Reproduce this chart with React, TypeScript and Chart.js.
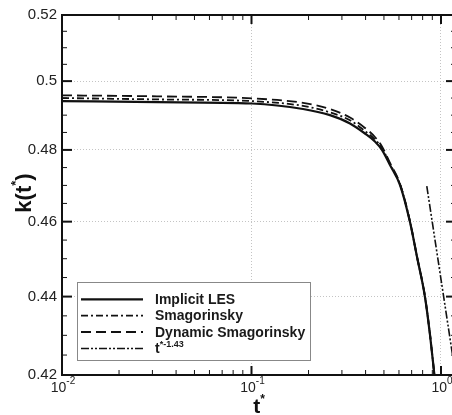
import React, { useEffect, useRef } from "react";
import { Chart, registerables } from "chart.js";
Chart.register(...registerables);

// ---- data ----
const tGrid = [0.01, 0.0317, 0.1006, 0.187, 0.2595, 0.331, 0.397, 0.448, 0.488, 0.538, 0.608, 0.686, 0.747, 0.823, 0.875, 0.923];
const implicitLES = [0.4941, 0.4938, 0.4934, 0.4918, 0.49, 0.4876, 0.4847, 0.4824, 0.48, 0.4757, 0.4701, 0.4599, 0.4505, 0.4399, 0.4301, 0.42];
const smagorinsky = [0.495, 0.4946, 0.4941, 0.4927, 0.4908, 0.4885, 0.4854, 0.483, 0.4806, 0.476, 0.4703, 0.4601, 0.4505, 0.4401, 0.4302, 0.42];
const dynamicSmag = [0.4958, 0.4955, 0.4949, 0.4936, 0.4918, 0.4893, 0.4863, 0.4837, 0.481, 0.4763, 0.4704, 0.46, 0.4506, 0.44, 0.4302, 0.42];
const powerT = [0.8415, 1.194];
const powerK = [0.4698, 0.42];

const seriesNames = ["Implicit LES", "Smagorinsky", "Dynamic Smagorinsky", "t"];
const powerSup = "*-1.43";

const xTicks = [0.01, 0.1, 1];
const xTickExp = ["-2", "-1", "0"];
const xMinor = [0.02, 0.03, 0.04, 0.05, 0.06, 0.07, 0.08, 0.09, 0.2, 0.3, 0.4, 0.5, 0.6, 0.7, 0.8, 0.9];
const yTicks = [0.42, 0.44, 0.46, 0.48, 0.5, 0.52];
const yTickLabels = ["0.42", "0.44", "0.46", "0.48", "0.5", "0.52"];
const yMinor = [0.425, 0.43, 0.435, 0.445, 0.45, 0.455, 0.465, 0.47, 0.475, 0.485, 0.49, 0.495, 0.505, 0.51, 0.515];

const X_MIN = 0.01;
const X_MAX = 1.2;
const Y_MIN = 0.42;
const Y_MAX = 0.52;

const INK = "#111";
const dashes: number[][] = [[], [7, 3, 2, 3], [10, 5], [8, 2, 2, 2, 2, 2]];
const widths = [2.2, 1.8, 1.8, 1.6];

const FONT = '"Liberation Sans", Arial, sans-serif';

function pts(xs: number[], ys: number[]) {
  return xs.map((x, i) => ({ x, y: ys[i] }));
}

const decorPlugin = {
  id: "decor",
  afterDraw(chart: any) {
    const ctx: CanvasRenderingContext2D = chart.ctx;
    const { left, right, top, bottom } = chart.chartArea;
    const xs = chart.scales.x;
    const ys = chart.scales.y;
    ctx.save();
    ctx.strokeStyle = INK;
    ctx.setLineDash([]);

    const tick = (x1: number, y1: number, x2: number, y2: number, w: number) => {
      ctx.lineWidth = w;
      ctx.beginPath();
      ctx.moveTo(x1, y1);
      ctx.lineTo(x2, y2);
      ctx.stroke();
    };
    xTicks.forEach((v) => {
      const px = xs.getPixelForValue(v);
      tick(px, bottom, px, bottom - 9, 2);
      tick(px, top, px, top + 9, 2);
    });
    xMinor.forEach((v) => {
      const px = xs.getPixelForValue(v);
      tick(px, bottom, px, bottom - 5, 1);
      tick(px, top, px, top + 5, 1);
    });
    yTicks.forEach((v) => {
      const py = ys.getPixelForValue(v);
      tick(left, py, left + 10, py, 2);
      tick(right, py, right - 10, py, 2);
    });
    yMinor.forEach((v) => {
      const py = ys.getPixelForValue(v);
      tick(left, py, left + 5, py, 1);
      tick(right, py, right - 5, py, 1);
    });

    // frame
    ctx.lineWidth = 2;
    ctx.strokeRect(left, top, right - left, bottom - top);

    // x tick labels 10^n
    ctx.fillStyle = "#222";
    ctx.textBaseline = "alphabetic";
    ctx.textAlign = "left";
    xTicks.forEach((v, i) => {
      const px = xs.getPixelForValue(v);
      ctx.font = `14px ${FONT}`;
      const wb = ctx.measureText("10").width;
      ctx.font = `10px ${FONT}`;
      const ws = ctx.measureText(xTickExp[i]).width;
      const x0 = px + 1 - (wb + ws) / 2;
      ctx.font = `14px ${FONT}`;
      ctx.fillText("10", x0, 392);
      ctx.font = `10px ${FONT}`;
      ctx.fillText(xTickExp[i], x0 + wb, 383.5);
    });

    // x title t*
    ctx.fillStyle = INK;
    ctx.font = `bold 21px ${FONT}`;
    const wt = ctx.measureText("t").width;
    ctx.font = `bold 12px ${FONT}`;
    const wa = ctx.measureText("*").width;
    const tx = (left + 452) / 2 + 2 - (wt + wa) / 2;
    ctx.font = `bold 21px ${FONT}`;
    ctx.fillText("t", tx, 413);
    ctx.font = `bold 12px ${FONT}`;
    ctx.fillText("*", tx + wt, 403);

    // y title k(t*)
    ctx.save();
    ctx.translate(23, (top + bottom) / 2 - 2);
    ctx.rotate(-Math.PI / 2);
    ctx.font = `bold 22px ${FONT}`;
    const w1 = ctx.measureText("k(t").width;
    const w3 = ctx.measureText(")").width;
    ctx.font = `bold 13px ${FONT}`;
    const w2 = ctx.measureText("*").width;
    let cx = -(w1 + w2 + w3) / 2;
    ctx.font = `bold 22px ${FONT}`;
    ctx.fillText("k(t", cx, 8);
    cx += w1;
    ctx.font = `bold 13px ${FONT}`;
    ctx.fillText("*", cx, -3);
    cx += w2;
    ctx.font = `bold 22px ${FONT}`;
    ctx.fillText(")", cx, 8);
    ctx.restore();

    // legend
    const bx = 77, by = 282, bw = 233, bh = 78;
    ctx.fillStyle = "#fff";
    ctx.fillRect(bx, by, bw, bh);
    ctx.strokeStyle = "#888";
    ctx.lineWidth = 1;
    ctx.strokeRect(bx + 0.5, by + 0.5, bw, bh);
    const rows = [299.3, 315.6, 332, 348.5];
    rows.forEach((ry, i) => {
      ctx.strokeStyle = INK;
      ctx.lineWidth = widths[i];
      ctx.setLineDash(dashes[i]);
      ctx.beginPath();
      ctx.moveTo(81, ry);
      ctx.lineTo(143, ry);
      ctx.stroke();
      ctx.setLineDash([]);
      ctx.fillStyle = "#1a1a1a";
      ctx.textBaseline = "middle";
      ctx.font = `bold 14px ${FONT}`;
      ctx.fillText(seriesNames[i], 155, ry + 1);
      if (i === 3) {
        const wtt = ctx.measureText(seriesNames[i]).width;
        ctx.font = `bold 9px ${FONT}`;
        ctx.fillText(powerSup, 155 + wtt, ry - 4);
      }
    });

    ctx.restore();
  },
};

export default function App() {
  const ref = useRef<HTMLCanvasElement | null>(null);
  useEffect(() => {
    if (!ref.current) return;
    const mk = (label: string, data: any[], i: number) => ({
      label,
      data,
      borderColor: INK,
      borderWidth: widths[i],
      borderDash: dashes[i],
      pointRadius: 0,
      fill: false,
      cubicInterpolationMode: "monotone" as const,
      clip: 0,
    });
    const chart = new Chart(ref.current, {
      type: "line",
      data: {
        datasets: [
          mk(seriesNames[3], pts(powerT, powerK), 3),
          mk(seriesNames[2], pts(tGrid, dynamicSmag), 2),
          mk(seriesNames[1], pts(tGrid, smagorinsky), 1),
          mk(seriesNames[0], pts(tGrid, implicitLES), 0),
        ],
      },
      options: {
        animation: false,
        responsive: false,
        layout: { padding: { top: 15, right: 6, left: 0, bottom: 0 } },
        plugins: { legend: { display: false }, tooltip: { enabled: false } },
        scales: {
          x: {
            type: "logarithmic",
            min: X_MIN,
            max: X_MAX,
            afterBuildTicks: (s: any) => {
              s.ticks = xTicks.map((v) => ({ value: v }));
            },
            afterFit: (s: any) => {
              s.height = 40;
            },
            ticks: { display: false },
            grid: { color: "#c4c4c4", lineWidth: 1, drawTicks: false },
            border: { display: false, dash: [1, 2] },
          },
          y: {
            type: "logarithmic",
            min: Y_MIN,
            max: Y_MAX,
            afterBuildTicks: (s: any) => {
              s.ticks = yTicks.map((v) => ({ value: v }));
            },
            afterFit: (s: any) => {
              s.width = 62;
            },
            ticks: {
              autoSkip: false,
              padding: 5,
              color: "#222",
              font: { family: FONT, size: 15 },
              callback: (_v: any, idx: number) => yTickLabels[idx],
            },
            grid: { color: "#c4c4c4", lineWidth: 1, drawTicks: false },
            border: { display: false, dash: [1, 2] },
          },
        },
      },
      plugins: [decorPlugin],
    });
    return () => chart.destroy();
  }, []);
  return (
    <div style={{ position: "fixed", left: 0, top: 0, width: 452, height: 415, overflow: "hidden", background: "#fff" }}>
      <canvas ref={ref} width={462} height={415} style={{ display: "block" }} />
    </div>
  );
}
